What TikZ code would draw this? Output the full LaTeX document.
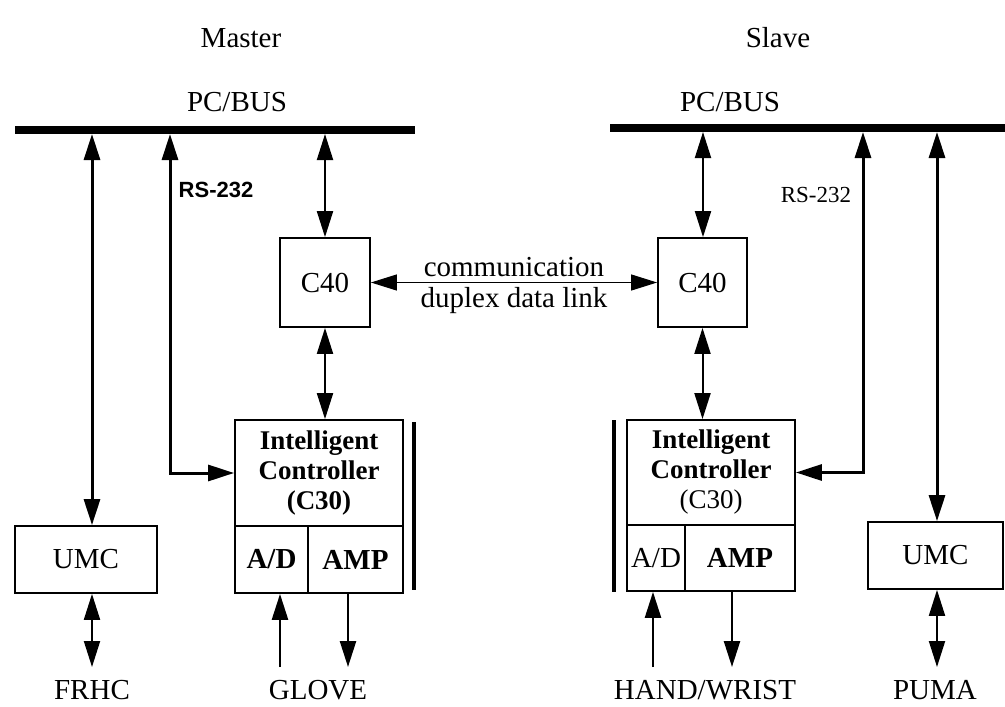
\documentclass[tikz,border=0pt]{standalone}
\usepackage{fontspec}
\setmainfont{Liberation Serif}
\newfontfamily\rsfont{Liberation Sans}
\usepackage{tikz}
\usetikzlibrary{arrows.meta}
\usetikzlibrary{positioning}
\tikzset{
big/.tip = {Triangle[length = 26pt, width = 16pt]},
box/.style = { rectangle, draw = black, line width = 1.8pt, inner sep = 0pt, font = \fontsize{29}{32}\selectfont },
label text/.style = { font = \fontsize{29}{32}\selectfont },
ctl text/.style = { font = \fontsize{27}{30}\selectfont, align = center },
rs label/.style = { font = \rsfont\bfseries\fontsize{22}{24}\selectfont },
rs plain/.style = { font = \fontsize{23}{25}\selectfont },
bus/.style = { line width = 8pt },
link/.style = { line width = 3pt, big-big },
thin link/.style = { line width = 2pt },
comm/.style = { line width = 1.2pt, big-big },
io/.style = { line width = 2.5pt, -big },
bar/.style = { line width = 4pt },
}

\begin{document}
\begin{tikzpicture}[x = 1pt, y = -1pt]
    \useasboundingbox (0, 0) rectangle (1005, 707);
    % headings and buses
    \node[label text] (master) at (241, 38) {Master};
    \node[label text] (slave) at (778, 38) {Slave};
    \node[label text] (mbuslabel) at (237, 102) {PC/BUS};
    \node[label text] (sbuslabel) at (730, 102) {PC/BUS};
    \coordinate (mbusl) at (15, 130);
    \coordinate (mbusr) at (415, 130);
    \coordinate (sbusl) at (610, 128);
    \coordinate (sbusr) at (1005, 128);
    \draw[bus] (mbusl) -- (mbusr);
    \draw[bus] (sbusl) -- (sbusr);

    % master side
    \node[box, minimum width = 90pt, minimum height = 89pt] (mc40) at (325, 282.5) {C40};
    \node[box, ctl text, minimum width = 168pt, minimum height = 106pt] (mctl) at (319, 473) {\textbf{Intelligent}\\\textbf{Controller}\\\textbf{(C30)}};
    \node[box, minimum width = 73pt, minimum height = 67pt] (mad) at (271.5, 559.5) {\textbf{A/D}};
    \node[box, minimum width = 95pt, minimum height = 67pt] (mamp) at (355.5, 559.5) {\textbf{AMP}};
    \node[box, minimum width = 142pt, minimum height = 67pt] (mumc) at (86, 559.5) {UMC};
    \node[label text] (frhc) at (92, 690) {FRHC};
    \node[label text] (glove) at (318, 690) {GLOVE};
    \node[rs label] (mrs) at (216, 190) {RS-232};
    \coordinate (mb1) at (92, 134);
    \coordinate (mb2) at (170, 134);
    \coordinate (mb3) at (325, 134);
    \coordinate (gin) at (280, 667);
    \coordinate (gout) at (348, 667);
    \draw[link] (mb1) -- (mb1 |- mumc.north);
    \draw[link] (mb2) |- (mctl.west);
    \draw[link, thin link] (mb3) -- (mc40.north);
    \draw[link, thin link] (mc40.south) -- (mc40.south |- mctl.north);
    \draw[link, thin link] (mumc.south -| mb1) -- (mb1 |- gin);
    \draw[io] (gin) -- (gin |- mad.south);
    \draw[io] (gout |- mamp.south) -- (gout);
    \draw[bar] (414, 422) -- (414, 590);

    % slave side
    \node[box, minimum width = 89pt, minimum height = 89pt] (sc40) at (702.5, 282.5) {C40};
    \node[box, ctl text, minimum width = 168pt, minimum height = 105pt] (sctl) at (711, 472.5) {\textbf{Intelligent}\\\textbf{Controller}\\(C30)};
    \node[box, minimum width = 58pt, minimum height = 66pt] (sad) at (656, 558) {A/D};
    \node[box, minimum width = 110pt, minimum height = 66pt] (samp) at (740, 558) {\textbf{AMP}};
    \node[box, minimum width = 135pt, minimum height = 67pt] (sumc) at (935.5, 555.5) {UMC};
    \node[label text] (puma) at (935, 690) {PUMA};
    \node[label text] (hand) at (705, 690) {HAND/WRIST};
    \node[rs plain] (srs) at (816, 195) {RS-232};
    \coordinate (sb1) at (703, 132);
    \coordinate (sb2) at (863, 132);
    \coordinate (sb3) at (937, 132);
    \coordinate (hin) at (653, 667);
    \coordinate (hout) at (732, 667);
    \draw[link, thin link] (sb1) -- (sb1 |- sc40.north);
    \draw[link, thin link] (sc40.south) -- (sc40.south |- sctl.north);
    \draw[link] (sb2) |- (sctl.east);
    \draw[link] (sb3) -- (sb3 |- sumc.north);
    \draw[link, thin link] (sumc.south -| sb3) -- (sb3 |- hin);
    \draw[io] (hin) -- (hin |- sad.south);
    \draw[io] (hout |- samp.south) -- (hout);
    \draw[bar] (614, 420) -- (614, 592);

    % data link between the two C40
    \draw[comm] (mc40.east) -- (sc40.west)
        node[midway, above, label text, inner sep = 5pt] (commtop) {communication}
        node[midway, below, label text, inner sep = 4pt] (commbot) {duplex data link};
\end{tikzpicture}
\end{document}
